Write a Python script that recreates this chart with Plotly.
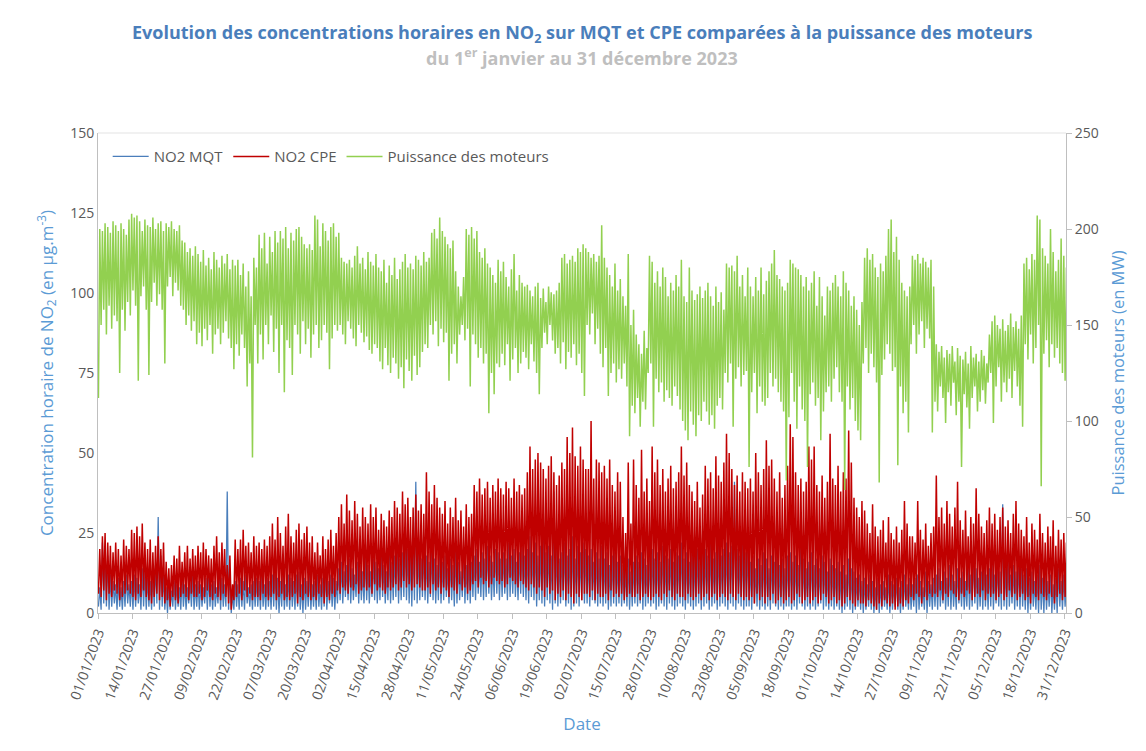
import plotly.graph_objects as go
import pandas as pd

START = "2023-01-01"

TICK_LABELS = ["01/01/2023", "14/01/2023", "27/01/2023", "09/02/2023", "22/02/2023",
               "07/03/2023", "20/03/2023", "02/04/2023", "15/04/2023", "28/04/2023",
               "11/05/2023", "24/05/2023", "06/06/2023", "19/06/2023", "02/07/2023",
               "15/07/2023", "28/07/2023", "10/08/2023", "23/08/2023", "05/09/2023",
               "18/09/2023", "01/10/2023", "14/10/2023", "27/10/2023", "09/11/2023",
               "22/11/2023", "05/12/2023", "18/12/2023", "31/12/2023"]

# Daily maxima / minima (one value per day, 1 Jan -> 31 Dec 2023)
POWER_MAX = [
    200,199,203,201,198,204,202,199,203,200,197,205,
    208,206,207,204,199,205,202,201,206,200,203,204,199,
    203,201,204,200,199,202,194,
    193,188,190,186,191,
    187,183,189,181,185,179,188,184,180,186,182,187,179,184,181,
    184,176,182,170,178,165,185,180,
    197,190,198,182,196,188,199,193,
    199,195,201,190,198,194,200,201,196,192,
    190,192,189,207,205,191,203,199,194,201,203,196,198,
    185,183,182,184,180,186,191,182,185,179,188,183,181,187,180,
    178,184,172,181,176,185,174,179,183,187,180,182,179,186,184,181,188,
    183,185,
    198,200,195,206,199,196,
    192,190,194,178,170,165,175,
    200,197,201,195,199,188,185,190,182,
    180,176,172,184,178,
    183,175,170,179,187,168,176,172,170,
    171,168,165,170,172,164,169,162,170,167,166,168,172,
    185,187,182,184,186,183,190,188,192,190,
    188,185,187,183,186,202,
    185,180,176,170,182,168,174,
    165,160,187,150,158,
    145,140,135,147,138,186,
    183,172,178,170,180,175,165,172,168,176,170,184,
    165,162,180,168,163,166,170,164,
    168,172,165,160,170,162,167,158,
    182,180,181,178,186,170,176,165,180,
    170,165,175,168,180,166,
    173,178,182,189,176,174,170,168,172,
    184,182,180,179,176,170,175,168,172,
    178,160,175,165,155,170,168,172,
    176,170,165,178,172,168,160,165,158,150,162,
    185,190,184,187,180,175,182,178,186,
    200,205,188,196,184,
    172,168,165,170,
    186,184,187,182,185,183,180,184,170,
    140,136,139,133,137,135,139,131,138,134,132,136,130,139,133,135,131,137,134,130,145,
    152,155,150,148,153,147,150,156,149,152,148,155,
    182,185,179,187,184,207,205,190,
    186,182,200,188,178,184,195,186,180,
]

POWER_MIN = [
    112,150,158,145,160,148,155,152,125,158,147,162,
    155,168,160,121,165,170,158,124,162,172,160,166,158,
    130,170,175,165,172,168,160,
    158,150,155,147,152,
    140,146,139,148,142,150,135,145,148,140,146,152,143,138,127,
    140,134,145,138,118,130,81,150,
    130,145,132,150,140,155,136,148,
    125,150,115,142,138,124,150,145,135,152,
    140,148,133,145,150,138,142,150,146,127,143,150,147,
    150,145,140,152,148,143,139,150,146,141,144,137,135,140,138,
    131,127,138,129,125,133,130,122,128,117,132,126,121,134,124,128,136,
    140,138,
    150,145,152,139,148,141,
    146,121,135,140,130,145,150,
    142,148,118,145,140,133,138,130,135,
    104,125,114,130,128,
    135,129,140,121,132,138,125,130,136,
    133,127,140,131,125,114,138,146,140,150,142,135,138,
    130,141,127,136,133,140,129,135,125,113,
    150,145,156,140,148,135,
    128,138,113,125,130,120,127,
    122,130,118,92,108,
    104,112,97,110,106,125,
    130,97,122,115,120,110,116,112,108,118,113,106,
    100,95,90,105,98,92,103,100,
    110,105,98,103,96,108,112,106,
    125,120,130,97,122,128,118,124,126,
    76,115,125,104,118,110,
    108,112,125,118,122,115,110,105,69,
    102,125,110,96,118,106,100,76,114,
    120,108,112,90,105,115,118,110,
    122,128,115,110,64,118,106,112,100,95,90,
    130,138,125,135,128,120,68,124,132,
    140,135,126,128,77,
    118,104,110,94,
    140,150,135,145,152,138,148,143,94,
    110,105,118,112,99,115,108,120,103,110,76,114,107,96,112,118,105,110,116,109,120,
    125,99,118,128,110,120,115,122,112,126,118,108,
    97,140,132,145,130,138,150,66,
    135,142,128,140,133,138,130,125,121,
]

CPE_MAX = [
    20,24,25,22,21,19,22,20,18,23,21,20,
    26,25,27,24,28,22,20,23,19,21,24,20,22,
    16,14,15,18,17,21,16,
    19,21,17,20,18,
    21,19,22,20,18,17,21,24,19,22,20,15,18,9,23,
    20,23,26,21,22,19,24,21,
    22,20,23,21,24,
    28,23,30,25,21,27,31,
    24,22,26,28,23,25,27,22,24,
    19,22,18,24,20,23,26,21,25,
    30,34,28,37,32,29,35,31,27,33,30,
    28,34,30,33,26,31,29,27,32,30,
    35,33,31,38,34,36,30,33,37,32,34,31,
    44,38,34,40,36,33,
    31,35,28,33,30,36,29,32,27,34,30,31,
    40,38,42,37,39,41,36,40,38,42,39,
    37,41,39,36,42,38,40,37,39,
    44,52,45,48,50,47,
    45,42,46,49,44,40,43,
    47,45,55,50,58,49,46,52,48,45,
    45,60,42,48,47,44,
    46,42,48,40,38,44,41,
    30,25,47,28,48,
    40,36,51,38,42,35,
    52,44,48,40,45,38,42,46,39,41,44,52,
    43,47,40,38,35,41,33,37,
    46,42,44,39,49,43,41,47,
    56,50,45,40,43,38,44,41,39,
    42,38,50,44,40,45,
    54,46,48,42,38,44,36,40,46,
    59,55,44,40,42,38,41,52,48,
    52,40,38,43,36,41,56,42,
    40,46,38,44,42,57,47,36,33,30,35,
    32,28,25,34,27,24,26,29,22,
    30,25,23,27,22,
    26,35,28,24,
    24,22,35,26,23,28,21,25,27,
    43,30,33,28,35,31,27,33,41,29,26,32,24,30,28,39,31,27,25,29,33,
    28,31,26,30,33,27,29,25,31,35,28,26,
    24,30,22,28,26,23,31,25,
    22,27,24,29,21,26,23,25,22,
]

CPE_MIN = [
    6,5,7,4,6,5,7,6,4,5,6,7,
    6,5,4,6,5,7,5,4,3,5,6,4,5,
    3,4,2,5,4,3,5,
    6,5,4,6,5,
    5,6,4,5,7,5,4,6,5,4,6,5,3,1,4,
    5,6,4,7,5,6,4,5,
    5,4,6,5,4,
    5,6,4,5,6,4,5,
    4,5,6,3,5,4,6,5,4,
    5,4,6,5,3,5,4,6,5,
    7,6,8,7,6,8,7,9,6,7,8,
    7,8,6,9,7,8,7,6,8,7,
    8,9,7,8,10,8,9,7,8,9,8,7,
    7,8,6,9,7,8,
    6,8,7,5,8,7,6,9,7,8,6,7,
    9,10,8,11,9,10,8,9,11,10,9,
    10,8,9,11,10,9,8,10,9,
    8,7,9,8,6,8,
    7,5,8,6,7,4,6,
    5,7,4,6,5,3,6,5,4,6,
    6,5,7,4,6,5,
    5,6,4,7,5,6,5,
    6,4,5,6,5,
    5,6,4,5,6,5,
    4,5,6,5,4,6,5,7,5,4,6,5,
    5,4,6,5,4,5,6,4,
    5,6,4,5,6,4,5,6,
    5,4,6,5,4,6,5,4,5,
    4,5,3,6,4,5,
    3,5,4,6,3,4,5,3,4,
    5,3,4,6,5,3,4,5,3,
    4,5,3,4,6,5,3,4,
    5,3,4,2,3,5,4,3,2,4,3,
    3,2,4,3,2,1,3,2,4,
    3,2,3,1,2,
    3,2,4,3,
    5,4,6,5,3,5,4,6,5,
    6,5,7,4,6,5,7,6,5,4,6,5,7,6,4,5,6,5,7,4,6,
    5,6,4,5,6,4,5,7,5,6,4,5,
    6,4,5,3,6,5,4,6,
    5,4,6,5,3,5,6,4,5,
]

MQT_MAX = [
    8,22,20,18,12,10,9,11,8,10,12,9,
    10,12,11,9,14,13,11,10,12,15,30,18,12,
    8,9,7,10,9,8,11,
    9,8,10,12,9,
    10,9,8,11,12,9,10,8,13,11,9,38,14,6,10,
    9,11,10,12,8,9,10,11,
    10,12,9,11,10,
    12,14,11,10,13,9,12,
    11,10,12,13,9,11,10,12,9,
    10,12,9,11,13,10,12,11,10,
    14,16,13,15,17,14,12,16,15,13,18,
    15,13,17,16,14,19,15,13,20,16,
    18,22,17,19,24,20,18,21,41,19,17,20,
    18,16,20,17,15,19,
    16,18,14,17,15,20,16,13,18,15,17,16,
    18,20,16,19,17,21,18,16,20,19,17,
    19,17,22,18,20,16,19,21,18,
    20,24,19,22,18,21,
    23,19,21,18,38,20,17,
    19,22,18,20,24,17,21,19,22,20,
    18,20,16,19,17,21,
    17,19,15,18,20,16,18,
    15,14,17,13,16,
    18,16,19,17,15,18,
    20,17,19,16,21,18,17,20,16,19,18,22,
    17,19,16,21,18,20,17,19,
    20,18,22,17,19,21,18,20,
    22,19,21,41,20,18,22,19,21,
    16,18,14,17,15,19,
    17,14,18,16,20,15,17,14,18,
    19,16,18,15,28,17,14,16,19,
    15,17,14,18,16,13,17,15,
    14,16,13,15,12,17,14,13,11,12,10,
    11,9,12,10,8,11,9,10,8,
    12,10,9,11,8,
    10,12,9,11,
    9,11,12,10,8,13,10,9,11,
    12,14,10,13,11,15,12,10,14,11,13,10,15,12,18,14,11,13,16,12,14,
    15,12,16,13,34,14,17,12,15,13,16,14,
    12,14,11,13,10,12,15,11,
    13,10,12,9,11,14,10,12,11,
]

MQT_MIN = [
    2,1,3,2,1,2,3,1,2,1,2,3,
    2,1,2,3,1,2,1,2,1,2,3,1,2,
    1,0,1,2,1,2,1,
    2,1,3,2,1,
    2,1,2,3,1,2,1,2,3,1,2,2,1,0,1,
    2,1,2,1,3,2,1,2,
    2,1,2,1,2,
    1,2,1,0,2,1,2,
    1,2,1,2,1,0,1,2,1,
    2,1,2,1,2,1,3,2,1,
    3,4,3,5,4,3,4,5,3,4,3,
    4,3,5,4,3,4,5,3,4,3,
    4,5,3,4,5,4,3,2,4,3,4,5,
    4,3,5,4,3,4,
    3,4,5,3,4,2,3,4,5,3,4,3,
    5,4,6,5,4,5,6,4,5,6,4,
    5,6,4,5,6,5,4,6,5,
    4,3,5,4,2,4,
    3,2,4,3,1,3,2,
    3,4,2,3,1,2,3,2,4,3,
    3,2,4,3,2,3,
    2,3,1,2,3,2,3,
    2,3,2,1,2,
    3,2,3,1,2,3,
    2,3,1,2,3,2,1,3,2,1,2,3,
    2,1,3,2,1,2,3,1,
    2,3,1,2,3,1,2,3,
    2,1,3,2,1,3,2,1,2,
    2,1,3,2,1,2,
    1,2,1,3,2,1,2,1,2,
    2,1,2,1,3,2,1,2,1,
    2,1,2,3,1,2,1,2,
    1,2,1,0,1,2,1,0,1,2,1,
    0,1,2,1,0,1,0,1,2,
    1,0,1,2,1,
    0,1,2,1,
    1,2,0,1,2,1,0,2,1,
    2,1,2,3,1,2,1,2,1,3,2,1,2,1,2,3,1,2,1,2,1,
    2,1,3,2,1,2,1,2,3,1,2,1,
    2,1,0,1,2,1,0,1,
    0,1,2,0,1,0,2,1,2,
]

BLUE = "#4A7EBB"
RED = "#C00000"
GREEN = "#92D050"
AXIS_TITLE = "#5B9BD5"
TICK_COLOR = "#595959"
FONT = "Open Sans"


def zigzag(lows, highs):
    start = pd.Timestamp(START)
    xs, ys = [], []
    for i, (lo, hi) in enumerate(zip(lows, highs)):
        day = start + pd.Timedelta(days=i)
        xs += [day + pd.Timedelta(hours=4), day + pd.Timedelta(hours=16)]
        ys += [lo, hi]
    return xs, ys


fig = go.Figure()
x, y = zigzag(MQT_MIN, MQT_MAX)
fig.add_trace(go.Scatter(x=x, y=y, mode="lines", name="NO2 MQT",
                         line=dict(color=BLUE, width=1.3), yaxis="y"))
x, y = zigzag(CPE_MIN, CPE_MAX)
fig.add_trace(go.Scatter(x=x, y=y, mode="lines", name="NO2 CPE",
                         line=dict(color=RED, width=1.5), yaxis="y"))
x, y = zigzag(POWER_MIN, POWER_MAX)
fig.add_trace(go.Scatter(x=x, y=y, mode="lines", name="Puissance des moteurs",
                         line=dict(color=GREEN, width=1.5), yaxis="y2"))

tickvals = [pd.to_datetime(t, format="%d/%m/%Y") for t in TICK_LABELS]

# The page body has an 8px margin: figure is shifted by 8px, so size/margins compensate.
fig.update_layout(
    width=1138, height=743,
    margin=dict(l=90, r=80, t=125, b=138),
    paper_bgcolor="white", plot_bgcolor="white",
    font=dict(family=FONT, color=TICK_COLOR, size=14),
    showlegend=True,
    legend=dict(orientation="h", x=0.01, y=0.985, xanchor="left", yanchor="top",
                font=dict(size=15, color=TICK_COLOR), bgcolor="rgba(0,0,0,0)",
                itemwidth=36, tracegroupgap=0),
    xaxis=dict(
        type="date",
        range=["2023-01-01", "2023-12-31 12:00"],
        tickmode="array", tickvals=tickvals, ticktext=TICK_LABELS,
        tickangle=-70, tickfont=dict(size=14, color=TICK_COLOR),
        showgrid=False, zeroline=False,
        showline=True, linecolor="#BFBFBF", linewidth=1,
        ticks="outside", ticklen=5, tickcolor="#BFBFBF",
        title=dict(text="Date", font=dict(size=17, color=AXIS_TITLE), standoff=16),
    ),
    yaxis=dict(
        range=[0, 150], tickmode="linear", tick0=0, dtick=25,
        tickfont=dict(size=14, color=TICK_COLOR),
        showgrid=False, zeroline=False,
        showline=True, linecolor="#BFBFBF", linewidth=1,
        ticks="",
        title=dict(text="Concentration horaire de NO<sub>2</sub> (en µg.m<sup>-3</sup>)",
                   font=dict(size=17, color=AXIS_TITLE), standoff=12),
    ),
    yaxis2=dict(
        range=[0, 250], tickmode="linear", tick0=0, dtick=50,
        overlaying="y", side="right",
        tickfont=dict(size=14, color=TICK_COLOR),
        showgrid=False, zeroline=False,
        showline=True, linecolor="#BFBFBF", linewidth=1,
        ticks="outside", ticklen=5, tickcolor="#BFBFBF",
        title=dict(text="Puissance des moteurs (en MW)",
                   font=dict(size=16.5, color=AXIS_TITLE), standoff=14),
    ),
    shapes=[dict(type="line", xref="paper", yref="paper", x0=0, x1=1, y0=1, y1=1,
                 line=dict(color="#E3E3E3", width=1))],
    annotations=[
        dict(text="<b>Evolution des concentrations horaires en NO<sub>2</sub> sur MQT et CPE "
                  "comparées à la puissance des moteurs</b>",
             xref="paper", yref="paper", x=0.5, y=(613 - 33) / 480,
             xanchor="center", yanchor="middle", showarrow=False,
             font=dict(size=18, color="#4A7EBB", family=FONT)),
        dict(text="<b>du 1<sup>er</sup> janvier au 31 décembre 2023</b>",
             xref="paper", yref="paper", x=0.5, y=(613 - 57) / 480,
             xanchor="center", yanchor="middle", showarrow=False,
             font=dict(size=18, color="#BFBFBF", family=FONT)),
    ],
)

fig.write_html("out.html")
